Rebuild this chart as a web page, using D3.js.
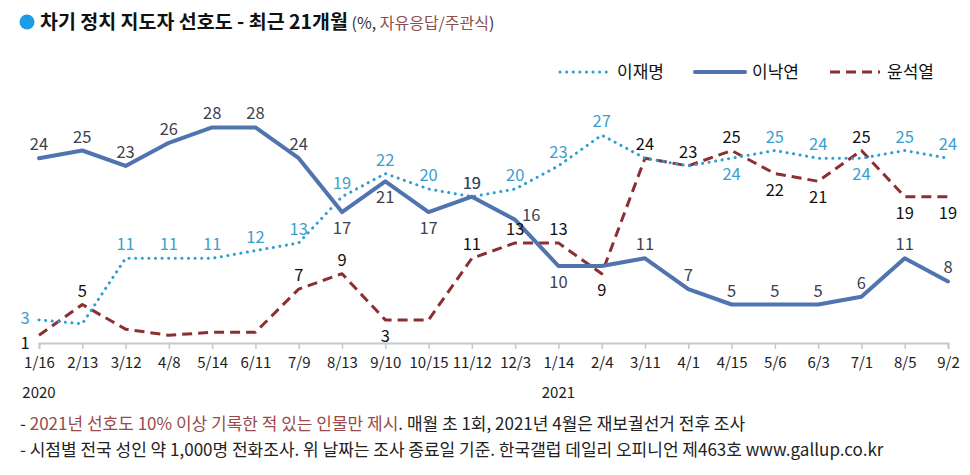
<!DOCTYPE html>
<html><head><meta charset="utf-8">
<script src="https://cdn.jsdelivr.net/npm/d3@7"></script>
<style>
body{margin:0;background:#fff;}
svg{font-family:"Noto Sans CJK KR","Noto Sans",sans-serif;}
</style></head>
<body><svg id="c" width="970" height="475"></svg>
<script>
const categories=["1/16","2/13","3/12","4/8","5/14","6/11","7/9","8/13","9/10","10/15","11/12","12/3","1/14","2/4","3/11","4/1","4/15","5/6","6/3","7/1","8/5","9/2"];
const years=[{i:0,t:"2020"},{i:12,t:"2021"}];
const leeJM=[3,2.5,11,11,11,12,13,19,22,20,19,20,23,27,24,23,24,25,24,24,25,24];
const leeNY=[24,25,23,26,28,28,24,17,21,17,19,16,10,10,11,7,5,5,5,6,11,8];
const yoonSY=[1,5,1.8,1,1.4,1.4,7,9,3,3,11,13,13,9,24,23,25,22,21,25,19,19];
// label placement: a=above, b=below, l=left, r=right-above, n=none
const posJM=["l","n","a","a","a","a","a","a","a","a","a","a","a","a","n","n","b","a","a","b","a","a"];
const posNY=["a","a","a","a","a","a","a","b","b","b","a","r","b","n","a","a","a","a","a","a","a","a"];
const posSY=["lb","a","n","n","n","n","a","a","b","n","a","a","a","b","a","a","a","b","b","a","b","b"];

const svg=d3.select("#c");
const x=d3.scalePoint().domain(d3.range(categories.length)).range([39,948]);
const y=d3.scaleLinear().domain([0,30]).range([343,112]);

// title
svg.append("circle").attr("cx",27).attr("cy",22).attr("r",7.5).attr("fill","#1e9be6");
const t=svg.append("text").attr("x",40).attr("y",29).attr("fill","#111");
t.append("tspan").attr("font-size",19.5).attr("font-weight",700).text("차기 정치 지도자 선호도 - 최근 21개월");
t.append("tspan").attr("font-size",16).attr("fill","#333").text(" (%, ");
t.append("tspan").attr("font-size",16).attr("fill","#8e4f4f").text("자유응답/주관식");
t.append("tspan").attr("font-size",16).attr("fill","#333").text(")");

// axis
const ax=svg.append("g").attr("transform","translate(0,343)")
 .call(d3.axisBottom(x).tickSize(6).tickFormat(i=>categories[i]).tickPadding(8));
ax.select(".domain").attr("stroke","#c8c8c8").attr("stroke-width",2);
ax.selectAll(".tick line").attr("stroke","#c8c8c8").attr("stroke-width",1.5);
ax.selectAll(".tick text").attr("font-size",15).attr("fill","#222").attr("font-family","'Noto Sans CJK KR',sans-serif");
svg.selectAll(".yr").data(years).join("text").attr("x",d=>x(d.i)).attr("y",398)
 .attr("text-anchor","middle").attr("font-size",15).attr("fill","#222").text(d=>d.t);

const series=[
 {v:yoonSY,pos:posSY,color:"#8b2f33",lc:"#111",w:3,dash:"10,6",cap:"butt"},
 {v:leeJM,pos:posJM,color:"#2f9fd2",lc:"#3a9fd0",w:3,dash:"0.1,6.5",cap:"round"},
 {v:leeNY,pos:posNY,color:"#4f74b0",lc:"#3d4150",w:4,dash:null,cap:"round"}
];
const line=d3.line().x((d,i)=>x(i)).y(d=>y(d));
series.forEach(s=>{
 svg.append("path").datum(s.v).attr("d",line).attr("fill","none").attr("stroke",s.color)
  .attr("stroke-width",s.w).attr("stroke-dasharray",s.dash).attr("stroke-linecap",s.cap).attr("stroke-linejoin","round");
});
series.forEach(s=>{
 svg.append("g").selectAll("text").data(s.v.map((v,i)=>({v,i,p:s.pos[i]})).filter(d=>d.p!=="n")).join("text")
  .attr("x",d=>d.p==="l"||d.p==="lb"?x(d.i)-14:d.p==="r"?x(d.i)+16:x(d.i))
  .attr("y",d=>{const py=y(d.v);return d.p==="a"?py-8:d.p==="b"?py+22:d.p==="l"?py+4:d.p==="lb"?py+14:py+1;})
  .attr("text-anchor","middle").attr("font-size",16.5).attr("fill",s.lc).text(d=>Math.round(d.v));
});

// legend
const lg=[{n:"이재명",s:series[1],x:560},{n:"이낙연",s:series[2],x:695},{n:"윤석열",s:series[0],x:830}];
lg.forEach(l=>{
 svg.append("line").attr("x1",l.x).attr("x2",l.x+50).attr("y1",72).attr("y2",72).attr("stroke",l.s.color)
  .attr("stroke-width",l.s.w).attr("stroke-dasharray",l.s.dash).attr("stroke-linecap",l.s.cap);
 svg.append("text").attr("x",l.x+57).attr("y",78).attr("font-size",17).attr("fill","#111").text(l.n);
});

// footnotes
const f1=svg.append("text").attr("x",20).attr("y",430).attr("font-size",17).attr("fill","#222");
f1.append("tspan").text("- ");
f1.append("tspan").attr("fill","#9a4a4a").text("2021년 선호도 10% 이상 기록한 적 있는 인물만 제시");
f1.append("tspan").text(". 매월 초 1회, 2021년 4월은 재보궐선거 전후 조사");
svg.append("text").attr("x",20).attr("y",456).attr("font-size",17).attr("fill","#222")
 .text("- 시점별 전국 성인 약 1,000명 전화조사. 위 날짜는 조사 종료일 기준. 한국갤럽 데일리 오피니언 제463호 www.gallup.co.kr");
</script></body></html>
